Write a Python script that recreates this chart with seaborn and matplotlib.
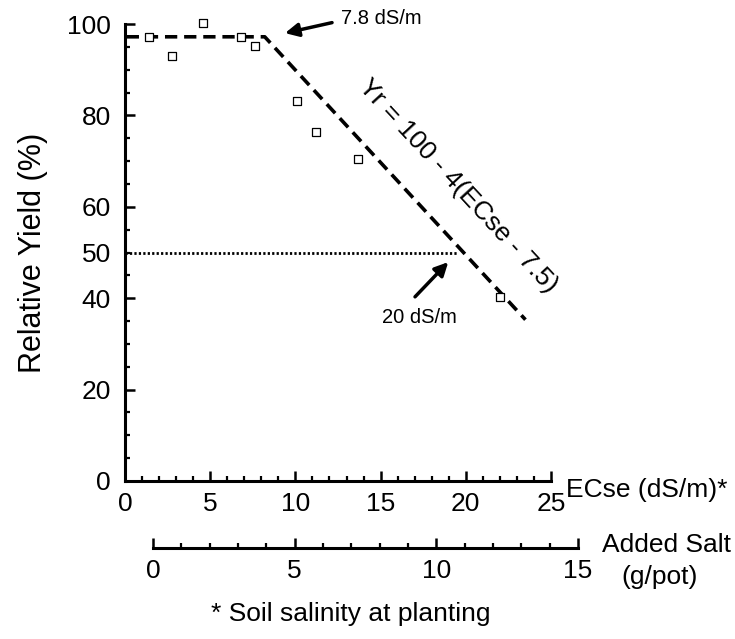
import matplotlib
matplotlib.use("Agg")
import matplotlib.pyplot as plt
from matplotlib.ticker import MultipleLocator
import seaborn as sns

# Measured points: soil salinity (dS/m) vs relative yield (%)
ecse = [1.43, 2.74, 4.56, 6.79, 7.65, 10.08, 11.21, 13.66, 22.0]
rel_yield = [97.1, 93.1, 100.2, 97.2, 95.2, 83.2, 76.4, 70.4, 40.3]

# Threshold / slope response line as drawn
fit_x = [0.1, 8.2, 23.5]
fit_y = [97.2, 97.2, 35.3]

# 50 % yield reference line
half_x = [0.0, 19.5]
half_y = [50.0, 50.0]

x_ticks = [0, 5, 10, 15, 20, 25]
y_ticks = [0, 20, 40, 60, 80, 100]
y_minor = [5, 10, 15, 25, 30, 35, 45, 50, 55, 65, 70, 75, 85, 90, 95]
salt_ticks = [0, 5, 10, 15]

sns.set_style("ticks")
plt.rcParams["font.family"] = ["Liberation Sans", "DejaVu Sans"]
plt.rcParams["text.color"] = "black"
plt.rcParams["axes.labelcolor"] = "black"
plt.rcParams["xtick.color"] = "black"
plt.rcParams["ytick.color"] = "black"
plt.rcParams["axes.edgecolor"] = "black"

W, H = 735, 639
fig = plt.figure(figsize=(W / 100, H / 100), dpi=100)

# main axes placed to match the reference pixel positions
ax = fig.add_axes([125 / W, (H - 481) / H, (551 - 125) / W, (481 - 24) / H])

sns.lineplot(x=fit_x, y=fit_y, ax=ax, color="black", linewidth=2.6,
             linestyle=(0, (3.4, 1.9)), sort=False)
sns.lineplot(x=half_x, y=half_y, ax=ax, color="black", linewidth=2.0,
             linestyle=(0, (0.8, 0.8)), sort=False)
sns.scatterplot(x=ecse, y=rel_yield, ax=ax, marker="s", s=40,
                facecolor="white", edgecolor="black", linewidth=0.9,
                zorder=5, clip_on=False)

ax.set_xlim(0, 25)
ax.set_ylim(0, 100)
ax.set_xticks(x_ticks)
ax.set_yticks(y_ticks)
ax.set_yticks(y_minor, labels=["50" if v == 50 else "" for v in y_minor], minor=True)
ax.xaxis.set_minor_locator(MultipleLocator(1))
ax.tick_params(which="major", direction="in", length=7, width=1.8, labelsize=19)
ax.tick_params(which="minor", direction="in", length=3.5, width=1.6, labelsize=19)
ax.tick_params(axis="x", which="both", pad=8)
ax.tick_params(axis="y", which="both", pad=10)
sns.despine(ax=ax)
for side in ["left", "bottom"]:
    ax.spines[side].set_linewidth(2.2)
ax.set_ylabel("Relative Yield (%)", fontsize=22, labelpad=14)
ax.set_xlabel("")

# annotations
ax.annotate("", xy=(9.39, 98.0), xytext=(12.15, 100.3), annotation_clip=False,
            arrowprops=dict(arrowstyle="-|>", color="black", lw=2.5,
                            mutation_scale=20, shrinkA=0, shrinkB=0))
ax.text(12.68, 101.3, "7.8 dS/m", fontsize=14.5, ha="left", va="center", clip_on=False)
ax.annotate("", xy=(18.97, 47.9), xytext=(17.02, 40.3),
            arrowprops=dict(arrowstyle="-|>", color="black", lw=2.5,
                            mutation_scale=20, shrinkA=0, shrinkB=0))
ax.text(17.28, 35.7, "20 dS/m", fontsize=14.5, ha="center", va="center")
ax.text(19.55, 64.6, "Yr = 100 - 4(ECse - 7.5)", fontsize=19, rotation=-47.3,
        rotation_mode="anchor", ha="center", va="center")

# secondary scale: added salt
ax2 = fig.add_axes([153 / W, (H - 548) / H, (578 - 153) / W, 0.001])
ax2.set_facecolor("none")
ax2.set_xlim(0, 15)
ax2.set_xticks(salt_ticks)
ax2.set_yticks([])
ax2.xaxis.set_minor_locator(MultipleLocator(1))
for side in ["left", "right", "top"]:
    ax2.spines[side].set_visible(False)
ax2.spines["bottom"].set_linewidth(2.2)
ax2.tick_params(which="major", direction="in", length=7, width=1.8, labelsize=19, pad=8)
ax2.tick_params(which="minor", direction="in", length=3.5, width=1.6)

fig.text(566 / W, 1 - 497 / H, "ECse (dS/m)*", fontsize=19, ha="left", va="baseline")
fig.text(602 / W, 1 - 552 / H, "Added Salt", fontsize=19, ha="left", va="baseline")
fig.text(660 / W, 1 - 584 / H, "(g/pot)", fontsize=19, ha="center", va="baseline")
fig.text(351 / W, 1 - 621 / H, "* Soil salinity at planting", fontsize=19,
         ha="center", va="baseline")

fig.savefig("out.png", dpi=100)
